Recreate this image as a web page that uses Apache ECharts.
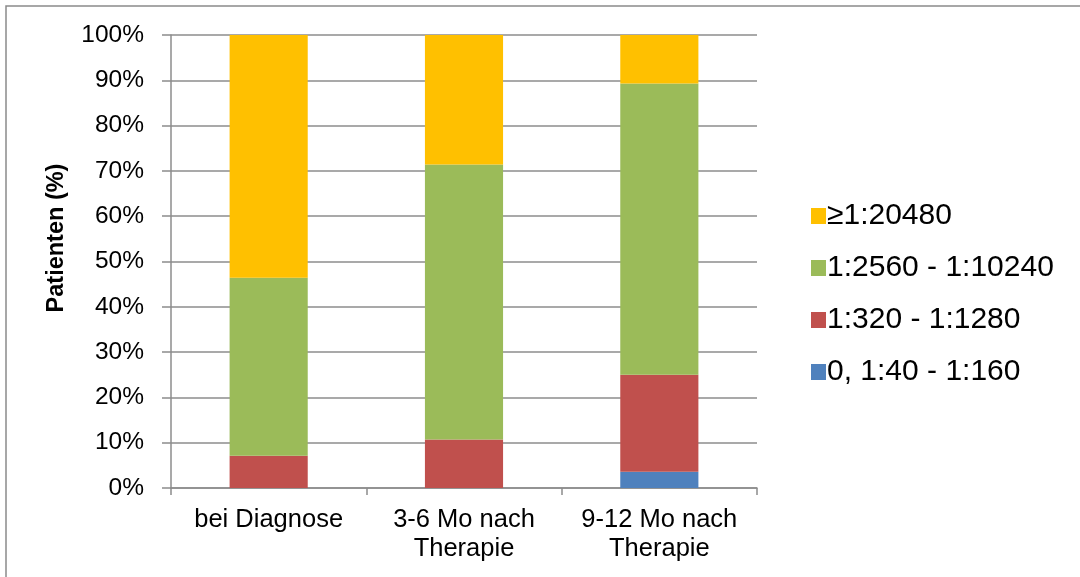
<!DOCTYPE html>
<html>
<head>
<meta charset="utf-8">
<script src="https://cdn.jsdelivr.net/npm/echarts@6/dist/echarts.min.js"></script>
<style>
  html, body { margin: 0; padding: 0; background: #fff; }
  #chart { width: 1080px; height: 577px; }
</style>
</head>
<body>
<div id="chart"></div>
<script>
// Antibody titre groups over time (share of patients, %)
const categories = ['bei Diagnose', '3-6 Mo nach\nTherapie', '9-12 Mo nach\nTherapie'];
const seriesNames = ['0, 1:40 - 1:160', '1:320 - 1:1280', '1:2560 - 1:10240', '\u22651:20480'];
const lowTitre = [0, 0, 3.6];
const midTitre = [7.1, 10.7, 21.4];
const highTitre = [39.3, 60.7, 64.3];
const veryHighTitre = [53.6, 28.6, 10.7];
const yTicks = [0, 10, 20, 30, 40, 50, 60, 70, 80, 90, 100];
const yTitle = 'Patienten (%)';

const colors = ['#4F81BD', '#C0504D', '#9BBB59', '#FFC000'];
const values = [lowTitre, midTitre, highTitre, veryHighTitre];
const gray = '#8c8c8c';
const font = '"Liberation Sans", Arial, sans-serif';

const chart = echarts.init(document.getElementById('chart'), null, { renderer: 'canvas' });

chart.setOption({
  animation: false,
  textStyle: { fontFamily: font, color: '#000' },
  graphic: [{
    type: 'rect',
    shape: { x: 6, y: 6, width: 1100, height: 600 },
    style: { fill: 'none', stroke: '#8a8a8a', lineWidth: 1.5 },
    silent: true
  }, {
    // rotated y-axis title
    type: 'text',
    x: 57,
    y: 238,
    rotation: Math.PI / 2,
    style: {
      text: yTitle,
      fontFamily: font,
      fontSize: 23.5,
      fontWeight: 'bold',
      fill: '#000',
      align: 'center',
      verticalAlign: 'middle'
    },
    silent: true
  }],
  grid: { left: 171, right: 323, top: 35, bottom: 89 },
  legend: {
    orient: 'vertical',
    left: 806,
    top: 195,
    data: seriesNames.slice().reverse(),
    itemWidth: 15,
    itemHeight: 16,
    itemGap: 20,
    icon: 'rect',
    textStyle: { fontFamily: font, fontSize: 30, color: '#000', padding: [0, 0, 0, -4], lineHeight: 32 }
  },
  xAxis: {
    type: 'category',
    data: categories,
    axisLine: { lineStyle: { color: gray, width: 1.5 } },
    axisTick: { show: true, length: 7, lineStyle: { color: gray, width: 1.5 } },
    axisLabel: {
      interval: 0,
      hideOverlap: false,
      fontFamily: font,
      fontSize: 25.5,
      color: '#000',
      margin: 17,
      lineHeight: 29
    }
  },
  yAxis: {
    type: 'value',
    min: yTicks[0],
    max: yTicks[yTicks.length - 1],
    interval: 10,
    axisLine: { show: true, lineStyle: { color: gray, width: 1.5 } },
    axisTick: { show: true, length: 9, lineStyle: { color: gray, width: 1.5 } },
    axisLabel: { fontFamily: font, fontSize: 24.5, color: '#000', margin: 27, formatter: '{value}%' },
    splitLine: { show: true, lineStyle: { color: gray, width: 1.5 } }
  },
  series: seriesNames.map((name, i) => ({
    name: name,
    type: 'bar',
    stack: 'total',
    barWidth: '40%',
    data: values[i],
    itemStyle: { color: colors[i] }
  }))
});
</script>
</body>
</html>
